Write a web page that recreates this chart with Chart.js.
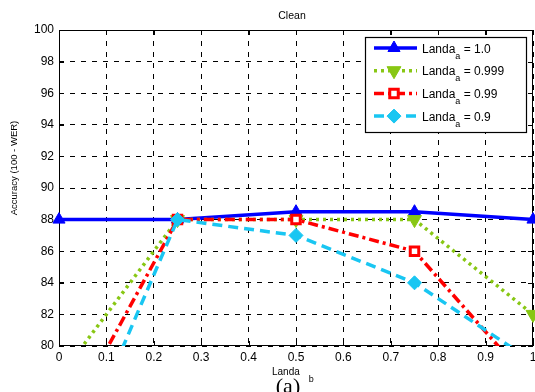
<!DOCTYPE html>
<html>
<head>
<meta charset="utf-8">
<title>Clean</title>
<script src="https://cdn.jsdelivr.net/npm/chart.js@4.4.1/dist/chart.umd.min.js"></script>
<style>
  html, body { margin: 0; padding: 0; background: #fff; }
  #wrap { width: 535px; height: 392px; }
</style>
</head>
<body>
<div id="wrap"><canvas id="chart" width="535" height="392"></canvas></div>
<script>
// Data
const xValues = [0, 0.25, 0.5, 0.75, 1];
const accLanda10 = [88, 88, 88.5, 88.5, 88];
const accLanda0999 = [78, 88, 88, 88, 82];
const accLanda099 = [74.3, 88, 88, 86, 77.5];
const accLanda09 = [70.5, 88, 87, 84, 79];
const seriesNames = ['1.0', '0.999', '0.99', '0.9'];
const xTickValues = [0, 0.1, 0.2, 0.3, 0.4, 0.5, 0.6, 0.7, 0.8, 0.9, 1];
const yTickValues = [80, 82, 84, 86, 88, 90, 92, 94, 96, 98, 100];

const FONT = '"Liberation Sans", Arial, Helvetica, sans-serif';

function pts(ys) {
  return xValues.map(function (x, i) { return { x: x, y: ys[i] }; });
}

const datasets = [
  {
    label: seriesNames[0], data: pts(accLanda10),
    borderColor: '#0000ff', borderWidth: 3.5, borderDash: [],
    pointStyle: 'triangle', pointRadius: 7, pointRotation: 0,
    pointBackgroundColor: '#0000ff', pointBorderColor: '#0000ff', pointBorderWidth: 1,
    order: 4, clip: { left: 12, right: 12, top: 0, bottom: 0 }
  },
  {
    label: seriesNames[1], data: pts(accLanda0999),
    borderColor: '#88c714', borderWidth: 3.5, borderDash: [3, 4],
    pointStyle: 'triangle', pointRadius: 8, pointRotation: 180,
    pointBackgroundColor: '#88c714', pointBorderColor: '#88c714', pointBorderWidth: 1,
    order: 3, clip: { left: 0, right: 12, top: 0, bottom: 0 }
  },
  {
    label: seriesNames[2], data: pts(accLanda099),
    borderColor: '#ff0000', borderWidth: 3.5, borderDash: [10, 4, 3, 4],
    pointStyle: 'rect', pointRadius: 6, pointRotation: 0,
    pointBackgroundColor: '#ffffff', pointBorderColor: '#ff0000', pointBorderWidth: 3,
    order: 2, clip: 0
  },
  {
    label: seriesNames[3], data: pts(accLanda09),
    borderColor: '#19c6f2', borderWidth: 3.5, borderDash: [10, 6],
    pointStyle: 'rectRot', pointRadius: 7, pointRotation: 0,
    pointBackgroundColor: '#19c6f2', pointBorderColor: '#19c6f2', pointBorderWidth: 1,
    order: 1, clip: 0
  }
];

// MATLAB-like box, inward ticks, legend and labels
const matlabDecor = {
  id: 'matlabDecor',
  beforeDatasetsDraw: function (chart) {
    const ctx = chart.ctx;
    const a = chart.chartArea;
    const xs = chart.scales.x, ys = chart.scales.y;
    ctx.save();
    ctx.setLineDash([]);
    ctx.strokeStyle = '#000';
    ctx.lineWidth = 1;
    ctx.strokeRect(Math.round(a.left) + 0.5, Math.round(a.top) + 0.5,
      Math.round(a.right - a.left) - 1, Math.round(a.bottom - a.top) - 1);
    ctx.beginPath();
    xTickValues.forEach(function (v) {
      const px = Math.round(xs.getPixelForValue(v)) + 0.5;
      ctx.moveTo(px, a.bottom); ctx.lineTo(px, a.bottom - 5);
      ctx.moveTo(px, a.top); ctx.lineTo(px, a.top + 5);
    });
    yTickValues.forEach(function (v) {
      const py = Math.round(ys.getPixelForValue(v)) + 0.5;
      ctx.moveTo(a.left, py); ctx.lineTo(a.left + 5, py);
      ctx.moveTo(a.right, py); ctx.lineTo(a.right - 5, py);
    });
    ctx.stroke();
    ctx.restore();
  },
  afterDatasetsDraw: function (chart) {
    const ctx = chart.ctx;
    const a = chart.chartArea;
    const w = 161, h = 95;
    const bx = a.right - 7 - w, by = a.top + 7;
    ctx.save();
    ctx.setLineDash([]);
    ctx.fillStyle = '#fff';
    ctx.fillRect(bx, by, w, h);
    ctx.strokeStyle = '#000';
    ctx.lineWidth = 1.2;
    ctx.strokeRect(Math.round(bx) + 0.5, Math.round(by) + 0.5, w, h);

    chart.data.datasets.forEach(function (ds, i) {
      const ry = by + 11 + i * 22.7;
      ctx.save();
      ctx.strokeStyle = ds.borderColor;
      ctx.lineWidth = ds.borderWidth;
      ctx.setLineDash(ds.borderDash);
      ctx.beginPath();
      ctx.moveTo(bx + 9, ry);
      ctx.lineTo(bx + 52, ry);
      ctx.stroke();
      ctx.setLineDash([]);
      ctx.fillStyle = ds.pointBackgroundColor;
      ctx.strokeStyle = ds.pointBorderColor;
      ctx.lineWidth = ds.pointBorderWidth;
      Chart.helpers.drawPoint(ctx, {
        pointStyle: ds.pointStyle, radius: ds.pointRadius,
        rotation: ds.pointRotation, borderWidth: ds.pointBorderWidth
      }, bx + 29, ry);
      ctx.restore();

      ctx.fillStyle = '#000';
      ctx.textBaseline = 'alphabetic';
      ctx.textAlign = 'left';
      let tx = bx + 57;
      const base = ry + 4.5;
      ctx.font = '12px ' + FONT;
      ctx.fillText('Landa', tx, base);
      tx += ctx.measureText('Landa').width;
      ctx.font = '9px ' + FONT;
      ctx.fillText('a', tx, base + 6);
      tx += ctx.measureText('a').width;
      ctx.font = '12px ' + FONT;
      ctx.fillText(' = ' + ds.label, tx, base);
    });
    ctx.restore();
  },
  afterDraw: function (chart) {
    const ctx = chart.ctx;
    const a = chart.chartArea;
    const cx = (a.left + a.right) / 2;
    ctx.save();
    ctx.fillStyle = '#000';
    ctx.textBaseline = 'alphabetic';

    // title
    ctx.textAlign = 'center';
    ctx.font = '10.5px ' + FONT;
    ctx.fillText('Clean', cx - 4, 19);

    // x axis title with subscript
    ctx.font = '10px ' + FONT;
    ctx.textAlign = 'left';
    const lw = ctx.measureText('Landa').width;
    const lx = 272;
    ctx.fillText('Landa', lx, 375);
    ctx.font = '9px ' + FONT;
    ctx.fillText('b', lx + lw + 9, 382);

    // panel tag
    ctx.textAlign = 'center';
    ctx.font = '22px "Liberation Serif", "Times New Roman", serif';
    ctx.fillText('(a)', 288, 393);

    // y axis title
    ctx.translate(17, 168);
    ctx.rotate(-Math.PI / 2);
    ctx.font = '9.5px ' + FONT;
    ctx.fillText('Accuracy (100 - WER)', 0, 0);
    ctx.restore();
  }
};

new Chart(document.getElementById('chart'), {
  type: 'line',
  data: { datasets: datasets },
  options: {
    responsive: false,
    animation: false,
    events: [],
    layout: { autoPadding: false, padding: { top: 30, right: 2, left: 0, bottom: 0 } },
    elements: { line: { tension: 0, fill: false } },
    plugins: {
      legend: { display: false },
      title: { display: false },
      tooltip: { enabled: false }
    },
    scales: {
      x: {
        type: 'linear',
        min: 0, max: 1,
        afterBuildTicks: function (s) { s.ticks = xTickValues.map(function (v) { return { value: v }; }); },
        afterFit: function (s) { s.height = 46; s.paddingLeft = 0; s.paddingRight = 0; },
        grid: { color: '#000', lineWidth: 1, drawTicks: false },
        border: { display: false, dash: [5, 6] },
        ticks: {
          color: '#000', padding: 4, maxRotation: 0,
          font: { family: FONT, size: 12 },
          callback: function (v) { return String(Number(v.toFixed(1))); }
        }
      },
      y: {
        min: 80, max: 100,
        afterBuildTicks: function (s) { s.ticks = yTickValues.map(function (v) { return { value: v }; }); },
        afterFit: function (s) { s.width = 59; s.paddingTop = 0; s.paddingBottom = 0; },
        grid: { color: '#000', lineWidth: 1, drawTicks: false },
        border: { display: false, dash: [5, 6] },
        ticks: {
          color: '#000', padding: 5,
          font: { family: FONT, size: 12 }
        }
      }
    }
  },
  plugins: [matlabDecor]
});
</script>
</body>
</html>
